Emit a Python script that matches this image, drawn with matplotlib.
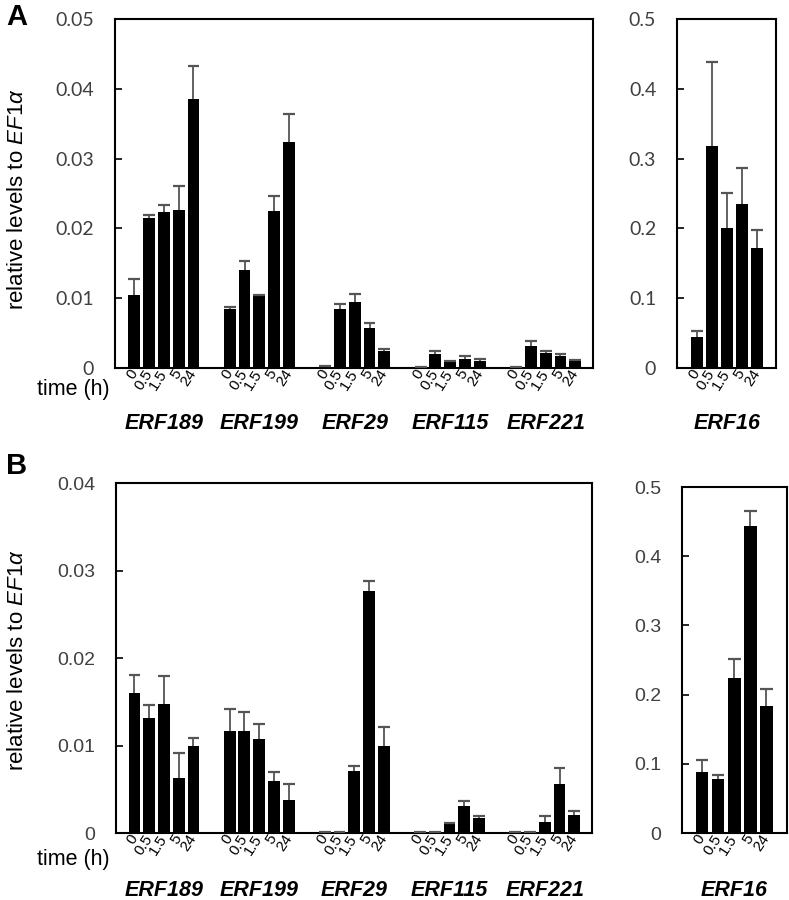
import numpy as np
import matplotlib
matplotlib.use("Agg")
import matplotlib.pyplot as plt
from matplotlib.transforms import ScaledTranslation

plt.rcParams["font.family"] = ["Liberation Sans", "DejaVu Sans"]
plt.rcParams["mathtext.fontset"] = "custom"
plt.rcParams["mathtext.rm"] = "Liberation Sans"
plt.rcParams["mathtext.it"] = "Liberation Sans:italic"

# data
genes = ["ERF189", "ERF199", "ERF29", "ERF115", "ERF221"]
times = ["0", "0.5", "1.5", "5", "24"]

# panel A (means and upper error)
a_mean = [
    [0.0105, 0.0215, 0.0223, 0.0227, 0.0385],
    [0.0084, 0.0140, 0.0104, 0.0225, 0.0324],
    [0.0003, 0.0084, 0.0094, 0.0057, 0.0024],
    [0.0002, 0.0020, 0.0009, 0.0013, 0.0010],
    [0.0002, 0.0031, 0.0021, 0.0017, 0.0010],
]
a_err = [
    [0.0023, 0.0004, 0.0011, 0.0034, 0.0048],
    [0.0004, 0.0014, 0.0001, 0.0021, 0.0040],
    [0.0000, 0.0008, 0.0012, 0.0008, 0.0003],
    [0.0000, 0.0005, 0.0001, 0.0004, 0.0003],
    [0.0000, 0.0008, 0.0004, 0.0003, 0.0001],
]
a16_mean = [0.045, 0.318, 0.200, 0.235, 0.172]
a16_err = [0.008, 0.120, 0.051, 0.051, 0.025]

# panel B
b_mean = [
    [0.0160, 0.0132, 0.0148, 0.0063, 0.0100],
    [0.0117, 0.0117, 0.0108, 0.0059, 0.0038],
    [0.0001, 0.0001, 0.0071, 0.0277, 0.0099],
    [0.0001, 0.0001, 0.0010, 0.0031, 0.0017],
    [0.0001, 0.0001, 0.0013, 0.0056, 0.0021],
]
b_err = [
    [0.0021, 0.0014, 0.0032, 0.0028, 0.0009],
    [0.0025, 0.0021, 0.0017, 0.0011, 0.0018],
    [0.0000, 0.0000, 0.0006, 0.0011, 0.0022],
    [0.0000, 0.0000, 0.0001, 0.0006, 0.0003],
    [0.0000, 0.0000, 0.0006, 0.0018, 0.0004],
]
b16_mean = [0.088, 0.078, 0.224, 0.444, 0.184]
b16_err = [0.017, 0.006, 0.027, 0.021, 0.024]

GAP = 6.45      # distance between gene groups (in bar units)
WIDTH = 0.8
CAP = 0.4       # half width of error caps
ERRC = "#555555"
TICKC = "#404040"

fig = plt.figure(figsize=(7.89, 9.0), dpi=100)


def draw_bars(ax, means, errs, tick_font):
    xs, labels = [], []
    for g in range(len(means)):
        x = g * GAP + np.arange(5)
        m = np.array(means[g])
        top = m + np.array(errs[g])
        ax.bar(x, m, width=WIDTH, color="black", zorder=2)
        # upper error only
        ax.vlines(x, m, top, color=ERRC, linewidth=1.3, zorder=3)
        ax.hlines(top, x - CAP, x + CAP, color=ERRC, linewidth=1.6, zorder=3)
        xs.extend(x)
        labels.extend(times)
    ax.set_xticks(xs)
    ax.set_xticklabels(labels, rotation=57, ha="right", va="center",
                       rotation_mode="anchor", fontsize=11)
    off = ScaledTranslation(6 / 100, -4 / 100, fig.dpi_scale_trans)
    for t in ax.get_xticklabels():
        t.set_transform(t.get_transform() + off)
    ax.tick_params(axis="x", length=0, pad=2)
    ax.tick_params(axis="y", direction="in", length=5, width=1.2,
                   labelsize=14, labelcolor=TICKC, pad=15)
    for t in ax.get_yticklabels():
        t.set_fontfamily(tick_font)
    for s in ax.spines.values():
        s.set_linewidth(1.5)
    return xs


def fmt_ticks(ax, ticks):
    ax.set_yticks(ticks)
    ax.set_yticklabels(["0" if v == 0 else f"{v:g}" for v in ticks])


# ---- panel A ----
axA = fig.add_axes([0.1458, 0.5911, 0.6058, 0.3878])
fmt_ticks(axA, [0, 0.01, 0.02, 0.03, 0.04, 0.05])
draw_bars(axA, a_mean, a_err, "Lato")
axA.set_ylim(0, 0.05)
axA.set_xlim(-1.3, 4 * GAP + 5.2)

axA2 = fig.add_axes([0.858, 0.5911, 0.1255, 0.3878])
fmt_ticks(axA2, [0, 0.1, 0.2, 0.3, 0.4, 0.5])
draw_bars(axA2, [a16_mean], [a16_err], "Lato")
axA2.set_ylim(0, 0.5)
axA2.set_xlim(-1.3, 5.25)

# ---- panel B ----
axB = fig.add_axes([0.147, 0.0744, 0.6033, 0.3889])
fmt_ticks(axB, [0, 0.01, 0.02, 0.03, 0.04])
draw_bars(axB, b_mean, b_err, "Liberation Sans")
axB.set_ylim(0, 0.04)
axB.set_xlim(-1.25, 4 * GAP + 5.2)

axB2 = fig.add_axes([0.8644, 0.0744, 0.1331, 0.3844])
fmt_ticks(axB2, [0, 0.1, 0.2, 0.3, 0.4, 0.5])
draw_bars(axB2, [b16_mean], [b16_err], "Liberation Sans")
axB2.set_ylim(0, 0.5)
axB2.set_xlim(-1.25, 5.3)

# gene labels under each group
W, H = 789, 900
for ax, ymain in [(axA, 424), (axB, 890)]:
    for g, name in enumerate(genes):
        xc = g * GAP + 2
        xd = ax.transData.transform((xc, 0))[0]
        fig.text(xd / W, 1 - ymain / H, name, ha="center", va="center",
                 fontsize=15.5, fontweight="bold", fontstyle="italic")
for ax, ymain in [(axA2, 424), (axB2, 890)]:
    xd = ax.transData.transform((2, 0))[0]
    fig.text(xd / W, 1 - ymain / H, "ERF16", ha="center", va="center",
             fontsize=15.5, fontweight="bold", fontstyle="italic")

# time labels, y labels, panel letters
fig.text(110 / W, 1 - 389 / H, "time (h)", ha="right", va="center", fontsize=15.5)
fig.text(110 / W, 1 - 859 / H, "time (h)", ha="right", va="center", fontsize=15.5)
ylab = r"relative levels to $EF1\alpha$"
fig.text(18 / W, 1 - 199 / H, ylab, rotation=90, ha="center", va="center", fontsize=16)
fig.text(18 / W, 1 - 660 / H, ylab, rotation=90, ha="center", va="center", fontsize=16)
fig.text(6 / W, 1 - 17 / H, "A", fontsize=21, fontweight="bold", ha="left", va="center")
fig.text(6 / W, 1 - 466 / H, "B", fontsize=21, fontweight="bold", ha="left", va="center")

fig.savefig("out.png", dpi=100)
